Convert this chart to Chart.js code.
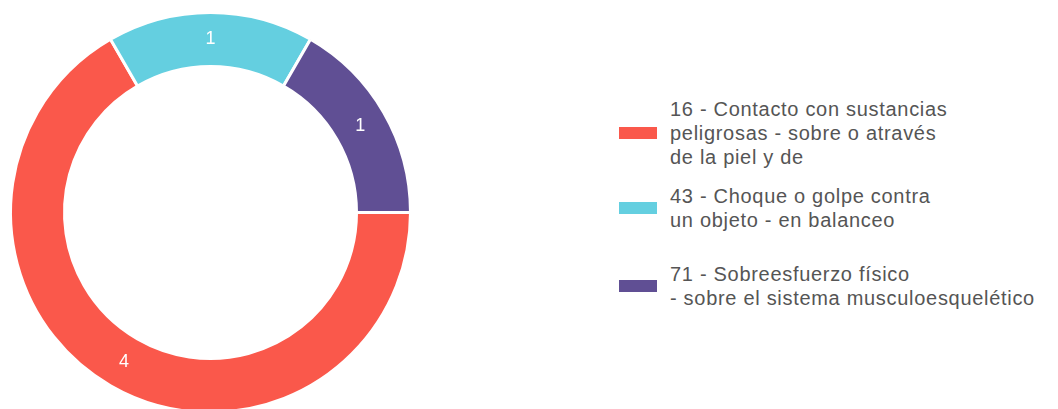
<!DOCTYPE html>
<html>
<head>
<meta charset="utf-8">
<script src="https://cdn.jsdelivr.net/npm/chart.js@4"></script>
<style>
  html, body { margin: 0; padding: 0; background: #fff; overflow: hidden; }
  body { width: 1058px; height: 409px; position: relative; font-family: "Liberation Sans", Arial, sans-serif; }
  #chartBox { position: absolute; left: 0; top: 0; width: 424px; height: 426px; }
  #legend { position: absolute; left: 619px; top: 97px; color: #555; font-size: 20px; line-height: 24px; letter-spacing: 0.7px; }
  .item { display: flex; align-items: center; }
  .box { width: 38px; height: 12px; margin-right: 13px; flex: none; }
</style>
</head>
<body>
<div id="chartBox"><canvas id="donut"></canvas></div>
<div id="legend"></div>
<script>
// etiquetas de la leyenda (una línea por elemento)
const labels = [
  ["16 - Contacto con sustancias", "peligrosas - sobre o através", "de la piel y de"],
  ["43 - Choque o golpe contra", "un objeto - en balanceo"],
  ["71 - Sobreesfuerzo físico", "- sobre el sistema musculoesquelético"],
];
const values = [4, 1, 1];
const colors = ["#FA584B", "#64CFE0", "#604F94"];
const itemGaps = [15, 30, 0]; // separación debajo de cada elemento

// plugin simple para escribir el valor en cada segmento
const valueLabels = {
  id: "valueLabels",
  afterDatasetsDraw(chart) {
    const ctx = chart.ctx;
    const meta = chart.getDatasetMeta(0);
    ctx.save();
    ctx.fillStyle = "#fff";
    ctx.font = '18px "Liberation Sans", Arial, sans-serif';
    ctx.textAlign = "center";
    ctx.textBaseline = "middle";
    meta.data.forEach((arc, i) => {
      const p = arc.tooltipPosition();
      ctx.fillText(String(values[i]), p.x, p.y);
    });
    ctx.restore();
  },
};

new Chart(document.getElementById("donut").getContext("2d"), {
  type: "doughnut",
  data: {
    labels: labels.map((l) => l.join(" ")),
    datasets: [
      {
        data: values,
        backgroundColor: colors,
        borderColor: "#fff",
        borderWidth: 3,
      },
    ],
  },
  options: {
    responsive: true,
    maintainAspectRatio: false,
    animation: false,
    rotation: 90,
    cutout: "73%",
    layout: { padding: { left: 9, right: 12, top: 10, bottom: 11 } },
    plugins: { legend: { display: false }, tooltip: { enabled: false } },
  },
  plugins: [valueLabels],
});

// leyenda en HTML
const legend = document.getElementById("legend");
labels.forEach((lines, i) => {
  const item = document.createElement("div");
  item.className = "item";
  item.style.marginBottom = itemGaps[i] + "px";
  const box = document.createElement("div");
  box.className = "box";
  box.style.background = colors[i];
  const text = document.createElement("div");
  text.innerHTML = lines.join("<br>");
  item.appendChild(box);
  item.appendChild(text);
  legend.appendChild(item);
});
</script>
</body>
</html>
